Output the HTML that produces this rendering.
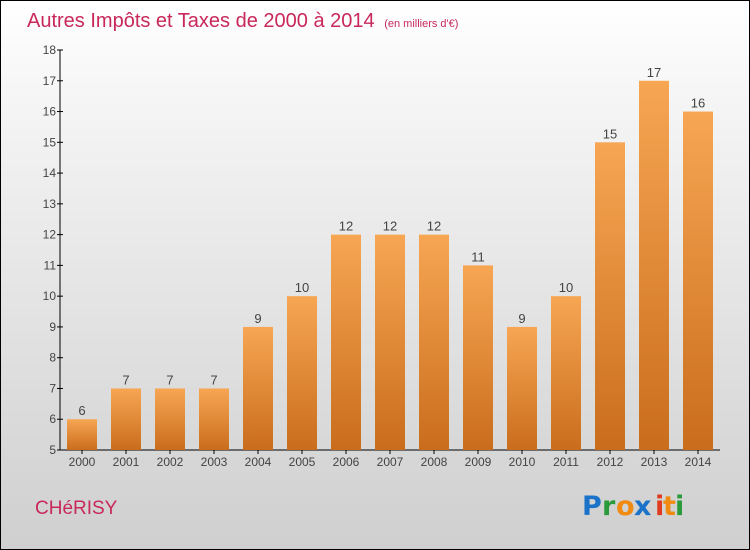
<!DOCTYPE html>
<html><head><meta charset="utf-8"><style>
html,body{margin:0;padding:0}
body{width:750px;height:550px;overflow:hidden;font-family:"Liberation Sans",sans-serif}
#wrap{position:absolute;left:0;top:0;width:748px;height:548px;border:1px solid #000;background:linear-gradient(#ffffff,#f4f4f4 20%,#cfcfcf)}
</style></head><body>
<div id="wrap">
<svg width="750" height="550" viewBox="0 0 750 550" style="position:absolute;left:-1px;top:-1px">
<defs><linearGradient id="bg" x1="0" y1="0" x2="0" y2="1"><stop offset="0" stop-color="#f7a653"/><stop offset="1" stop-color="#c96d1c"/></linearGradient></defs>
<text x="27" y="27" font-size="20" fill="#c8285a">Autres Impôts et Taxes de 2000 à 2014 <tspan font-size="11" dx="4">(en milliers d'€)</tspan></text>
<g id="axes"></g><g id="bars"></g>
<text x="35" y="514" font-size="19" fill="#c8285a">CHéRISY</text>
<g font-size="27" font-weight="bold" font-family="'DejaVu Sans',sans-serif">
<text x="582" y="515" fill="#1a73c8">P</text><text x="602" y="515" fill="#2a9a3a">r</text><text x="616" y="515" fill="#f08a10">o</text><text x="634" y="515" fill="#1a73c8">x</text><text x="655" y="515" fill="#e03a20">i</text><text x="663" y="515" fill="#f08a10">t</text><text x="675" y="515" fill="#2a9a3a">i</text></g>
</svg></div>
<script>
const years=["2000","2001","2002","2003","2004","2005","2006","2007","2008","2009","2010","2011","2012","2013","2014"];
const values=[6,7,7,7,9,10,12,12,12,11,9,10,15,17,16];
const yTicks=[5,6,7,8,9,10,11,12,13,14,15,16,17,18];
const NS="http://www.w3.org/2000/svg";
const y0=450,y1=50,vmin=5,vmax=18,x0=60,step=44,bw=30;
const Y=v=>y0-(v-vmin)/(vmax-vmin)*(y0-y1);
const X=i=>82+i*step;
function mk(t,a,p){const e=document.createElementNS(NS,t);for(const k in a)e.setAttribute(k,a[k]);p.appendChild(e);return e;}
const ax=document.getElementById('axes'),bars=document.getElementById('bars');
let l=mk('line',{x1:x0,y1:y1,x2:x0,y2:y0,stroke:'#000'},ax);


l=mk('line',{x1:x0,y1:y0,x2:720,y2:y0,stroke:'#000'},ax);


yTicks.forEach(v=>{mk('line',{x1:x0-3,x2:x0+3,y1:Y(v),y2:Y(v),stroke:'#000'},ax);
const t=mk('text',{x:x0-4,y:Y(v)+4,'font-size':12,'text-anchor':'end',fill:'#444'},ax);t.textContent=v;

});
years.forEach((yr,i)=>{const cx=X(i),v=values[i];
const r=mk('rect',{x:cx-bw/2,y:Y(v),width:bw,height:y0-Y(v),fill:'url(#bg)'},bars);


mk('line',{x1:cx,x2:cx,y1:y0,y2:y0+4,stroke:'#000'},ax);
const t=mk('text',{x:cx,y:466,'font-size':12,'text-anchor':'middle',fill:'#444'},ax);t.textContent=yr;


const vl=mk('text',{x:cx,y:Y(v)-4,'font-size':13,'text-anchor':'middle',fill:'#444'},bars);vl.textContent=v;

});
</script>
</body></html>
